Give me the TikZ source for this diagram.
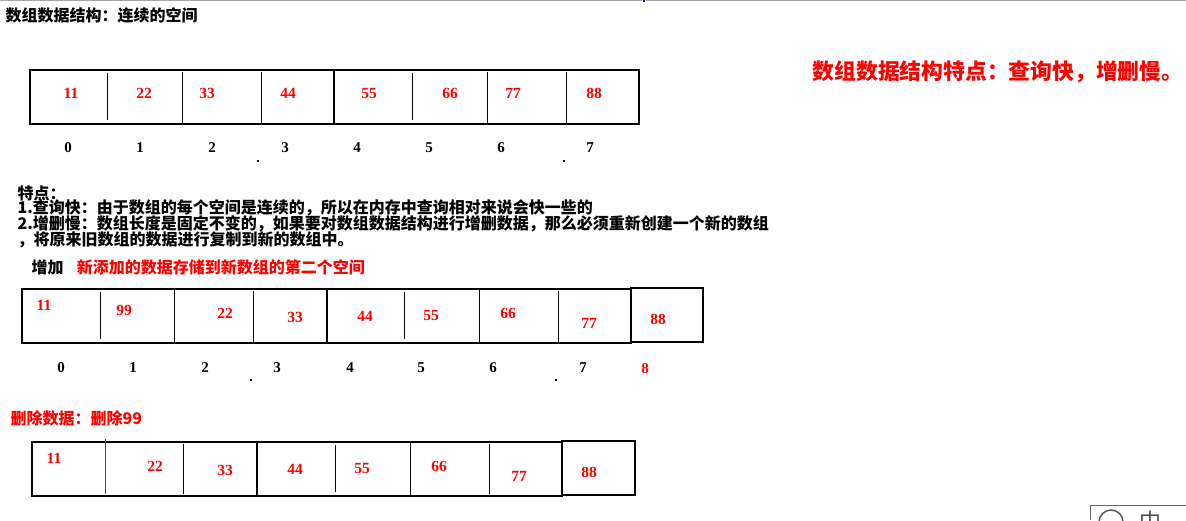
\documentclass[tikz,border=0pt]{standalone}
\usepackage{fontspec}
\setmainfont{Liberation Serif}
\newfontfamily\cjk{Noto Sans CJK SC}
\usepackage{xcolor}
\usetikzlibrary{positioning, calc}
\tikzset{
    arraydiagram/.style={x=1pt, y=-1pt, line width=1.2pt},
    arraybox/.style={draw, line width=1.2pt, inner sep=0pt, outer sep=0pt, anchor=north west},
    divider/.style={line width=1pt},
    wall/.style={line width=2pt},
    val/.style={text=red, font=\bfseries\fontsize{15.5}{15.5}\selectfont, inner sep=0pt},
    idx/.style={font=\bfseries\fontsize{15}{15}\selectfont, inner sep=0pt},
    % plain text lines, placed by their left end
    note/.style={font=\cjk\bfseries\fontsize{16}{17}\selectfont, anchor=west, inner sep=0pt},
    bignote/.style={note, text=red, font=\cjk\bfseries\fontsize{21.8}{22}\selectfont},
    speck/.style={fill, inner sep=0pt, minimum size=1.2pt},
}

\begin{document}
\begin{tikzpicture}[arraydiagram]
    \useasboundingbox (0,0) rectangle (1186,520);
    \draw[gray!70, line width=1pt] (0,0.5) -- (642,0.5) (646,0.5) -- (1186,0.5);
    \fill[blue!70!black] (642.5,0) rectangle (644.5,2);

    \node[note] (title) at (5,15) {数组数据结构：连续的空间};
    \node[bignote] (feature) at (812,72) {数组数据结构特点：查询快，增删慢。};

    % first array
    \node[arraybox, minimum width=609pt, minimum height=54pt] (arrA) at (30,70) {};
    \draw[divider] (107,73) -- (107,120);
    \draw[divider] (182,72) -- (182,124);
    \draw[divider] (261,72) -- (261,123);
    \draw[wall]    (334,70) -- (334,124);
    \draw[divider] (412,73) -- (412,120);
    \draw[divider] (487,72) -- (487,124);
    \draw[divider] (566,72) -- (566,123);
    \node[val] (a0) at (71,93)  {11};
    \node[val] (a1) at (144,93) {22};
    \node[val] (a2) at (207,93) {33};
    \node[val] (a3) at (288,93) {44};
    \node[val] (a4) at (369,93) {55};
    \node[val] (a5) at (450,93) {66};
    \node[val] (a6) at (513,93) {77};
    \node[val] (a7) at (594,93) {88};
    \node[idx] (ia0) at (68,148)  {0};
    \node[idx] (ia1) at (140,148) {1};
    \node[idx] (ia2) at (212,148) {2};
    \node[idx] (ia3) at (285,148) {3};
    \node[idx] (ia4) at (357,148) {4};
    \node[idx] (ia5) at (429,148) {5};
    \node[idx] (ia6) at (501,148) {6};
    \node[idx] (ia7) at (590,148) {7};
    \node[speck] (dotA1) at (258,161) {};
    \node[speck] (dotA2) at (564,161) {};

    \node[note] (feat)  at (17,193) {特点：};
    \node[note] (fast)  at (17,208) {1.查询快：由于数组的每个空间是连续的，所以在内存中查询相对来说会快一些的};
    \node[note] (slow)  at (17,224) {2.增删慢：数组长度是固定不变的，如果要对数组数据结构进行增删数据，那么必须重新创建一个新的数组};
    \node[note] (copy)  at (17,240) {，将原来旧数组的数据进行复制到新的数组中。};
    \node[note] (add)   at (31,267) {增加};
    \node[note, text=red, right=12pt of add] (addtxt) {新添加的数据存储到新数组的第二个空间};

    % array after adding 99
    \node[arraybox, minimum width=609pt, minimum height=54pt] (arrB) at (22,289) {};
    \node[arraybox, minimum width=72pt, minimum height=54pt] (extraB) at (arrB.north east) [yshift=1pt] {};
    \draw[divider] (100,292) -- (100,339);
    \draw[divider] (174,289) -- (174,343);
    \draw[divider] (253,291) -- (253,342);
    \draw[wall]    (327,289) -- (327,343);
    \draw[divider] (404,292) -- (404,339);
    \draw[divider] (479,289) -- (479,343);
    \draw[divider] (558,291) -- (558,342);
    \node[val] (b0) at (44,305)  {11};
    \node[val] (b1) at (124,310) {99};
    \node[val] (b2) at (225,313) {22};
    \node[val] (b3) at (295,317) {33};
    \node[val] (b4) at (365,316) {44};
    \node[val] (b5) at (431,315) {55};
    \node[val] (b6) at (508,313) {66};
    \node[val] (b7) at (589,323) {77};
    \node[val] (b8) at (658,319) {88};
    \node[idx] (ib0) at (61,368)  {0};
    \node[idx] (ib1) at (133,368) {1};
    \node[idx] (ib2) at (205,368) {2};
    \node[idx] (ib3) at (277,368) {3};
    \node[idx] (ib4) at (350,368) {4};
    \node[idx] (ib5) at (421,368) {5};
    \node[idx] (ib6) at (493,368) {6};
    \node[idx] (ib7) at (583,368) {7};
    \node[idx, text=red] (ib8) at (645,369) {8};
    \node[speck] (dotB1) at (251,380) {};
    \node[speck] (dotB2) at (556,380) {};

    \node[note, text=red] (del) at (10,418) {删除数据：删除99};

    % array after deleting 99
    \node[arraybox, minimum width=530pt, minimum height=54pt] (arrC) at (32,442) {};
    \node[arraybox, minimum width=73pt, minimum height=54pt] (extraC) at (arrC.north east) [yshift=1pt] {};
    \draw[divider, red] (105,439) -- (105,494);
    \draw[divider] (183,444) -- (183,494);
    \draw[wall]    (257,442) -- (257,496);
    \draw[divider] (335,445) -- (335,492);
    \draw[divider] (410,442) -- (410,496);
    \draw[divider] (489,444) -- (489,494);
    \node[val] (c0) at (54,458)  {11};
    \node[val] (c1) at (155,466) {22};
    \node[val] (c2) at (225,470) {33};
    \node[val] (c3) at (295,469) {44};
    \node[val] (c4) at (362,468) {55};
    \node[val] (c5) at (439,466) {66};
    \node[val] (c6) at (519,476) {77};
    \node[val] (c7) at (589,472) {88};

    % input bar in the corner
    \draw[gray!80!black, line width=1pt] (1186,505) -- (1090,505) -- (1090,520);
    \draw[gray!70!black, line width=1.5pt] (1111,522) circle (12);
    \node[gray!60!black, font=\cjk\fontsize{22}{22}\selectfont, inner sep=0pt, anchor=north] (imeC) at (1150,510) {中};
\end{tikzpicture}
\end{document}
